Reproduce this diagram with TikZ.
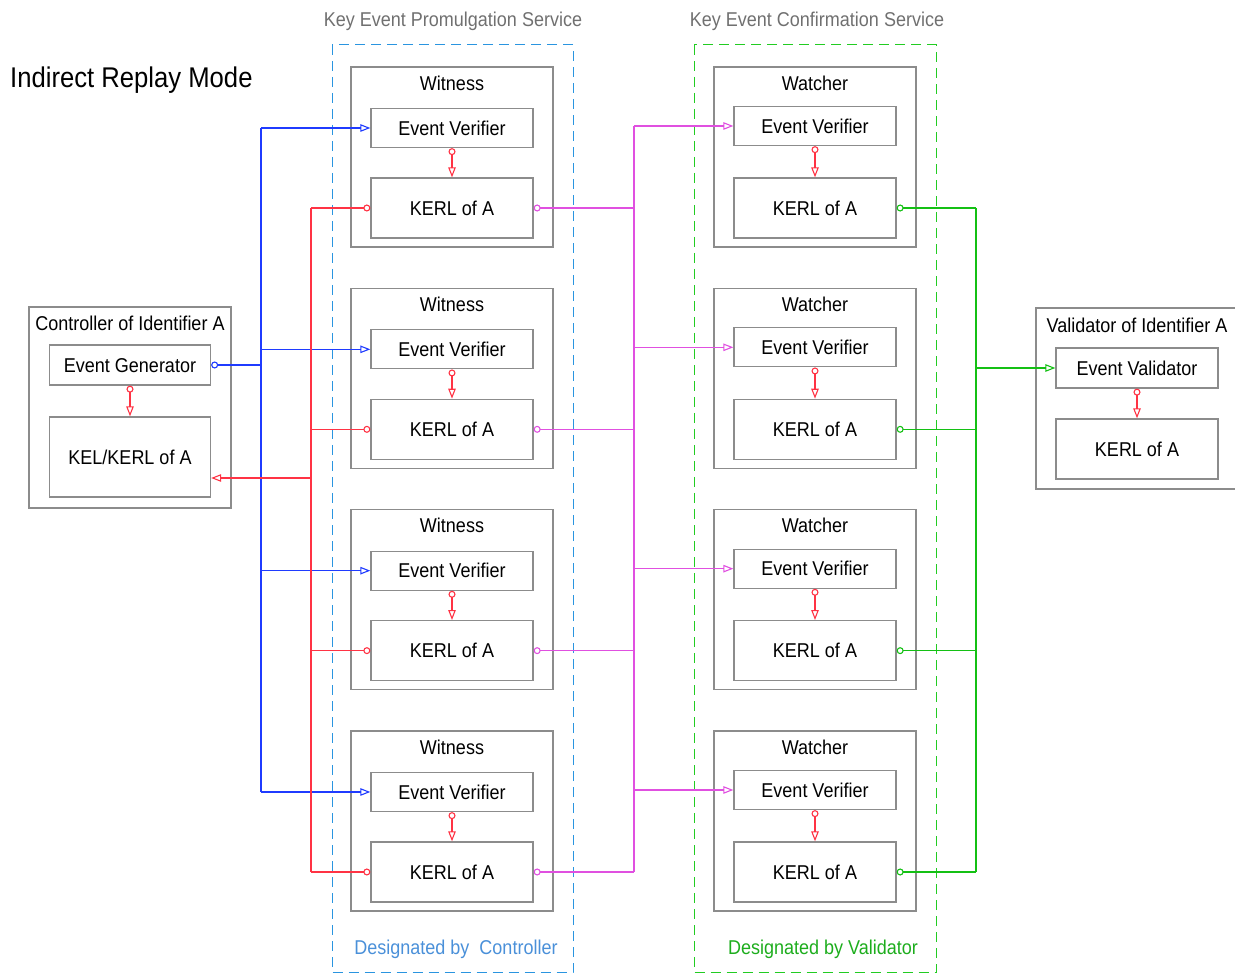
\documentclass[tikz,border=0pt]{standalone}
\usepackage{fontspec}
\setmainfont[FakeStretch=0.9]{Liberation Sans}
\usetikzlibrary{arrows.meta}
\definecolor{boxgray}{HTML}{8C8C8C}
\definecolor{hdrgray}{HTML}{707070}
\definecolor{lblue}{HTML}{1F3BFF}
\definecolor{lred}{HTML}{FF3344}
\definecolor{lmag}{HTML}{E050E0}
\definecolor{lgreen}{HTML}{14C014}
\definecolor{dblue}{HTML}{2A95E0}
\definecolor{dgreen}{HTML}{22CC22}
\definecolor{tblue}{HTML}{4A90D9}
\tikzset{
  outerbox/.style={draw=boxgray, line width=1.3pt, minimum width=202pt, minimum height=180pt, inner sep=0pt},
  innerbox/.style={draw=boxgray, line width=1.3pt, minimum width=162pt, minimum height=39pt, inner sep=0pt, text height=14.3pt, text depth=0pt},
  kerlbox/.style={innerbox, minimum height=60pt},
  lbl/.style={inner sep=0pt, text height=14.3pt, text depth=0pt},
  dashbox/.style={line width=1pt, dash pattern=on 10pt off 6pt},
  ctip/.tip={Circle[open, length=7pt, width=7pt, line width=1.1pt]},
  ttip/.tip={Triangle[open, length=10pt, width=7.5pt, line width=1.1pt]},
  thin/.style={line width=1.3pt},
  thick/.style={line width=2.2pt},
}
\begin{document}
\begin{tikzpicture}[x=1pt,y=-1pt, font=\fontsize{20}{24}\selectfont]
\useasboundingbox (0,0) rectangle (1235,973);

% dashed service boxes
\draw[dashbox, draw=dblue] (332,45) rectangle (573,972.5);
\draw[dashbox, draw=dgreen] (694,45) rectangle (936,972.5);

% headers
\node[lbl, text=hdrgray] (hdr1) at (453,19) {Key Event Promulgation Service};
\node[lbl, text=hdrgray] (hdr2) at (817,19) {Key Event Confirmation Service};
\node[lbl, anchor=west, font=\fontsize{28.5}{32}\selectfont, text height=20.4pt] (title) at (10,77) {Indirect Replay Mode};
\node[lbl, text=tblue] (desc1) at (456,947) {Designated by\ \ Controller};
\node[lbl, text=dgreen!85!black] (desc2) at (823,947) {Designated by Validator};

% controller
\node[outerbox, minimum height=201pt] (ctrl) at (130,407.5) {};
\node[lbl] (ctrlt) at (130,323) {Controller of Identifier A};
\node[innerbox, minimum width=161pt, minimum height=40pt] (eg) at (130,365) {Event Generator};
\node[kerlbox, minimum width=161pt, minimum height=80pt] (kel) at (130,457) {KEL/KERL of A};
\draw[thin, lred, {ctip}-{ttip}] (eg.south) -- (kel.north);

% validator
\node[outerbox, minimum height=181pt] (val) at (1137,398.5) {};
\node[lbl] (valt) at (1137,325) {Validator of Identifier A};
\node[innerbox, minimum height=40pt] (evl) at (1137,368) {Event Validator};
\node[kerlbox] (vk) at (1137,449) {KERL of A};
\draw[thin, lred, {ctip}-{ttip}] (evl.south) -- (vk.north);

% witnesses and watchers
\foreach \i in {1,...,4}{
  \pgfmathsetmacro{\yo}{67+221.33*(\i-1)}
  \node[outerbox] (w\i) at (452,\yo+90) {};
  \node[lbl] (wt\i) at (452,\yo+16) {Witness};
  \node[innerbox] (wev\i) at (452,\yo+61) {Event Verifier};
  \node[kerlbox] (wk\i) at (452,\yo+141) {KERL of A};
  \draw[thin, lred, {ctip}-{ttip}] (wev\i.south) -- (wk\i.north);
  \node[outerbox] (c\i) at (815,\yo+90) {};
  \node[lbl] (ct\i) at (815,\yo+16) {Watcher};
  \node[innerbox] (cev\i) at (815,\yo+59) {Event Verifier};
  \node[kerlbox] (ck\i) at (815,\yo+141) {KERL of A};
  \draw[thin, lred, {ctip}-{ttip}] (cev\i.south) -- (ck\i.north);
  % bus connections
  \coordinate (bb\i) at (261,0 |- wev\i.west);
  \coordinate (rb\i) at (311,0 |- wk\i.west);
  \coordinate (mb\i) at (634,0 |- wk\i.east);
  \coordinate (mt\i) at (634,0 |- cev\i.west);
  \coordinate (gb\i) at (976,0 |- ck\i.east);
  \draw[thin, lblue, -{ttip}] (bb\i) -- (wev\i.west);
  \draw[thin, lred, {ctip}-] (wk\i.west) -- (rb\i);
  \draw[thin, lmag, {ctip}-] (wk\i.east) -- (mb\i);
  \draw[thin, lmag, -{ttip}] (mt\i) -- (cev\i.west);
  \draw[thin, lgreen, {ctip}-] (ck\i.east) -- (gb\i);
}
% buses
\coordinate (bj) at (261,365);
\draw[thin, lblue, {ctip}-] (eg.east) -- (bj);
\draw[line width=1.6pt, lblue] (bb1) -- (bb4);
\draw[thin, lred] (rb1) -- (rb4);
\coordinate (rj) at (311,478);
\draw[thick, lred, -{ttip}] (rj) -- (kel.east |- rj);
\draw[line width=1.6pt, lmag] (mt1) -- (mb4);
\draw[thin, lgreen] (gb1) -- (gb4);
\coordinate (gj) at (976,0 |- evl.west);
\draw[thick, lgreen, -{ttip}] (gj) -- (evl.west);
\end{tikzpicture}
\end{document}
